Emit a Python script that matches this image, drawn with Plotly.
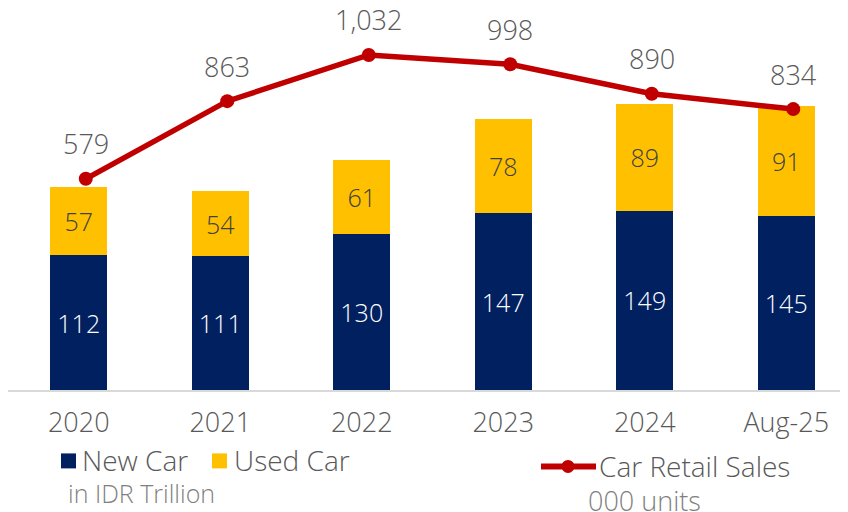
import plotly.graph_objects as go

years = ['2020', '2021', '2022', '2023', '2024', 'Aug-25']
new_car = [112, 111, 130, 147, 149, 145]
used_car = [57, 54, 61, 78, 89, 91]
retail_sales = [579, 863, 1032, 998, 890, 834]

BLUE = '#002060'
YELLOW = '#FFC000'
RED = '#C00000'
GREY = '#595959'
LIGHT_GREY = '#7F7F7F'
FONT = 'Open Sans'
WT = 300

W, H = 848, 512
L, R, T, B = 0, 0, 2, 129.5
OFF = 8  # page body margin
pitch = 141.5


def px(x):
    return (x - OFF - L) / (W - L - R)


def py(y):
    return (H - B - (y - OFF)) / (H - T - B)


fig = go.Figure()

fig.add_trace(go.Bar(
    x=years, y=new_car, name='New Car',
    marker=dict(color=BLUE, line=dict(width=0)),
    width=0.4,
    text=new_car, textposition='inside', insidetextanchor='middle',
    textangle=0,
    insidetextfont=dict(color='white', size=25, family=FONT, weight=WT),
))
fig.add_trace(go.Bar(
    x=years, y=used_car, name='Used Car',
    marker=dict(color=YELLOW, line=dict(width=0)),
    width=0.4,
    text=used_car, textposition='inside', insidetextanchor='middle',
    textangle=0,
    insidetextfont=dict(color='#404040', size=25, family=FONT, weight=WT),
))
fig.add_trace(go.Scatter(
    x=years, y=retail_sales, name='Car Retail Sales',
    xaxis='x2', yaxis='y2',
    mode='lines+markers',
    line=dict(color=RED, width=5.5),
    marker=dict(color=RED, size=14),
))

# value labels above the line points
for i, v in enumerate(retail_sales):
    fig.add_annotation(
        x=i, y=v, xref='x2', yref='y2', text=f'{v:,}',
        showarrow=False, yshift=35,
        font=dict(size=27, color=GREY, family=FONT, weight=WT),
    )

# custom legend
for x0, col in [(61, BLUE), (212, YELLOW)]:
    fig.add_shape(type='rect', xref='paper', yref='paper',
                  x0=px(x0), x1=px(x0 + 15), y0=py(469), y1=py(454),
                  fillcolor=col, line=dict(width=0))
fig.add_shape(type='line', xref='paper', yref='paper',
              x0=px(541), x1=px(596), y0=py(467), y1=py(467),
              line=dict(color=RED, width=6))
fig.add_shape(type='circle', xref='paper', yref='paper',
              x0=px(561.5), x1=px(574.5), y0=py(473.5), y1=py(460.5),
              fillcolor=RED, line=dict(width=0))

legend_text = [
    ('New Car', 80, 461, GREY, 28),
    ('Used Car', 232, 461, GREY, 28),
    ('in IDR Trillion', 66, 494, LIGHT_GREY, 25),
    ('Car Retail Sales', 597, 467, GREY, 28),
    ('000 units', 586, 501, LIGHT_GREY, 27),
]
for txt, x, y, col, size in legend_text:
    fig.add_annotation(
        x=px(x), y=py(y), xref='paper', yref='paper', text=txt,
        showarrow=False, xanchor='left', yanchor='middle',
        font=dict(size=size, color=col, family=FONT, weight=WT),
    )

shift = 7 / pitch
x_end = -0.5 + (W - L - R) / pitch
fig.update_layout(
    width=W, height=H,
    margin=dict(l=L, r=R, t=T, b=B),
    barmode='stack',
    showlegend=False,
    plot_bgcolor='white', paper_bgcolor='white',
    font=dict(family=FONT, color=GREY, weight=WT),
    xaxis=dict(
        type='category', range=[-0.5, x_end],
        showline=True, linecolor='#D9D9D9', linewidth=2,
        showgrid=False, ticks='', ticklabelstandoff=8,
        tickfont=dict(size=27, color=GREY, family=FONT, weight=WT),
    ),
    xaxis2=dict(
        type='category', overlaying='x', visible=False,
        range=[-0.5 - shift, x_end - shift],
    ),
    yaxis=dict(range=[0, 315.8], visible=False, showgrid=False),
    yaxis2=dict(range=[-193.7, 1196.5], overlaying='y', visible=False,
                showgrid=False),
)

fig.write_html('out.html')
